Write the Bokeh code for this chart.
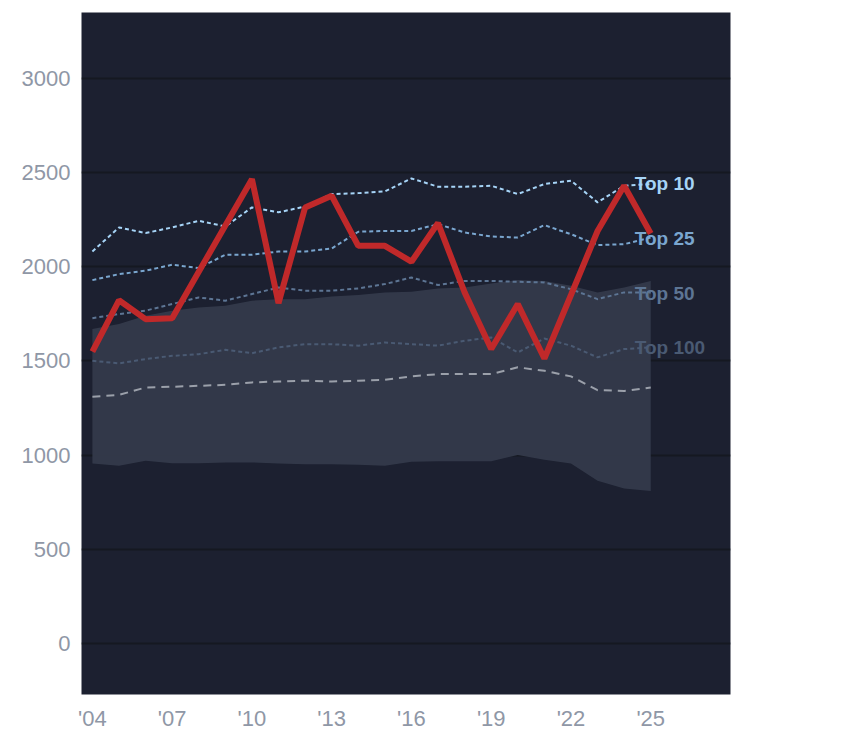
from bokeh.plotting import figure
from bokeh.models import Range1d, FixedTicker, Label
from bokeh.embed import file_html
from bokeh.resources import INLINE

years = list(range(2004, 2026))
red = [1549,1822,1722,1727,1973,2219,2465,1807,2315,2377,2111,2111,2027,2232,1864,1563,1802,1513,1850,2190,2430,2177]
top10 = [2081,2209,2179,2209,2244,2214,2315,2289,2320,2386,2391,2400,2469,2425,2425,2430,2386,2439,2457,2342,2430,2439]
top25 = [1929,1961,1979,2011,1993,2064,2064,2081,2081,2097,2186,2190,2190,2226,2182,2161,2155,2221,2173,2115,2120,2155]
top50 = [1727,1749,1767,1802,1837,1820,1855,1890,1873,1873,1885,1908,1943,1903,1925,1925,1920,1917,1881,1828,1864,1864]
top100 = [1501,1487,1510,1527,1536,1559,1541,1572,1589,1589,1581,1598,1589,1581,1607,1625,1545,1619,1581,1519,1563,1572]
median = [1310,1320,1359,1363,1368,1373,1386,1391,1395,1391,1395,1400,1418,1430,1430,1430,1466,1448,1418,1345,1341,1359]
band_hi = [1669,1696,1740,1767,1784,1793,1820,1828,1828,1842,1850,1864,1868,1885,1890,1911,1930,1925,1899,1864,1890,1925]
band_lo = [956,943,970,957,957,961,961,956,952,952,949,943,965,968,968,968,1001,975,956,864,823,810]
tick_years = [2004,2007,2010,2013,2016,2019,2022,2025]
tick_labels = {y: "'" + str(y)[2:] for y in tick_years}
y_ticks = [0,500,1000,1500,2000,2500,3000]

p = figure(frame_width=649, frame_height=682, min_border_left=81, min_border_top=12,
           min_border_right=98, min_border_bottom=38,
           x_range=Range1d(2003.59, 2028.0), y_range=Range1d(-271, 3350),
           output_backend="svg", toolbar_location=None)
p.background_fill_color = "#1c2030"
p.border_fill_color = "white"
p.outline_line_color = None
p.xgrid.grid_line_color = None
p.ygrid.grid_line_color = "#151821"
p.ygrid.grid_line_width = 2
for ax in (p.xaxis, p.yaxis):
    ax.axis_line_color = None
    ax.major_tick_line_color = None
    ax.minor_tick_line_color = None
    ax.major_label_text_color = "#8f97a6"
    ax.major_label_text_font_size = "22px"
    ax.major_label_text_font = "Liberation Sans"
p.xaxis.ticker = FixedTicker(ticks=tick_years)
p.xaxis.major_label_overrides = tick_labels
p.yaxis.ticker = FixedTicker(ticks=y_ticks)

p.varea(x=years, y1=band_lo, y2=band_hi, fill_color="#343a4b", fill_alpha=0.95)
p.line(years, median, line_color="#9ba0aa", line_width=2, line_dash="8 6")
series = [(top100, "#4a5a73", "Top 100"), (top50, "#5d7594", "Top 50"),
          (top25, "#7aa6cf", "Top 25"), (top10, "#a6d4f7", "Top 10")]
for vals, col, _ in series:
    p.line(years, vals, line_color=col, line_width=2, line_dash="4 3")
p.line(years, red, line_color="#c0292a", line_width=6)
lab_y = [1570, 1860, 2150, 2440]
for (vals, col, name), yy in zip(series, lab_y):
    p.add_layout(Label(x=2024.4, y=yy, text=name, text_color=col, text_font_size="19px",
                       text_font_style="bold", text_font="Liberation Sans",
                       text_baseline="middle"))

open("out.html", "w").write(file_html(p, INLINE))
